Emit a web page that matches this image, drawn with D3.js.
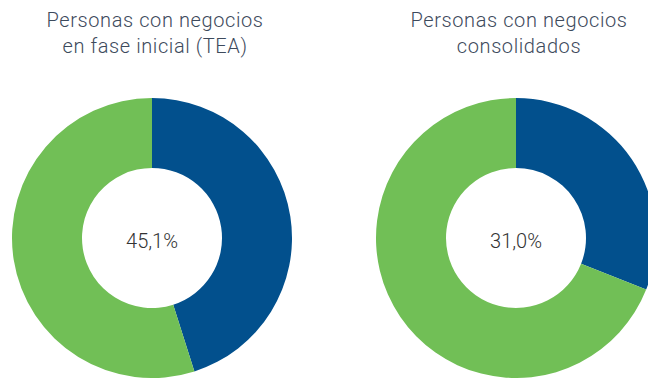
<!DOCTYPE html>
<html>
<head>
<meta charset="utf-8">
<script src="https://cdn.jsdelivr.net/npm/d3@7/dist/d3.min.js"></script>
<style>
  html, body { margin: 0; padding: 0; background: #fff; }
  svg { display: block; }
</style>
</head>
<body>
<div id="chart"></div>
<script>
// Share of people with businesses, by business stage
const panelTitles = [
  ["Personas con negocios", "en fase inicial (TEA)"],
  ["Personas con negocios", "consolidados"]
];
const shareValues = [45.1, 31.0];
const sliceColors = ["#02508d", "#71bf56"];

const width = 648, height = 378;
const centers = [152, 516];
const centerY = 238;
const outerR = 140, innerR = 70;

const svg = d3.select("#chart").append("svg")
  .attr("width", width)
  .attr("height", height);

const pie = d3.pie().sort(null).value(d => d);
const arc = d3.arc().innerRadius(innerR).outerRadius(outerR);
const fmt = v => d3.format(".1f")(v).replace(".", ",") + "%";

shareValues.forEach((v, i) => {
  const g = svg.append("g").attr("transform", `translate(${centers[i]},${centerY})`);
  g.selectAll("path")
    .data(pie([v, 100 - v]))
    .join("path")
    .attr("d", arc)
    .attr("fill", (d, j) => sliceColors[j]);

  g.append("text")
    .attr("y", 10)
    .attr("text-anchor", "middle")
    .attr("font-family", "Roboto, sans-serif")
    .attr("font-weight", 300)
    .attr("font-size", 20)
    .attr("fill", "#333")
    .text(fmt(v));

  const t = svg.append("text")
    .attr("text-anchor", "middle")
    .attr("font-family", "Roboto, sans-serif")
    .attr("font-weight", 300)
    .attr("font-size", 20)
    .attr("letter-spacing", 0.6)
    .attr("fill", "#3d4a5c");
  panelTitles[i].forEach((line, k) => {
    t.append("tspan")
      .attr("x", centers[i] + 3)
      .attr("y", 27 + k * 26)
      .text(line);
  });
});
</script>
</body>
</html>
